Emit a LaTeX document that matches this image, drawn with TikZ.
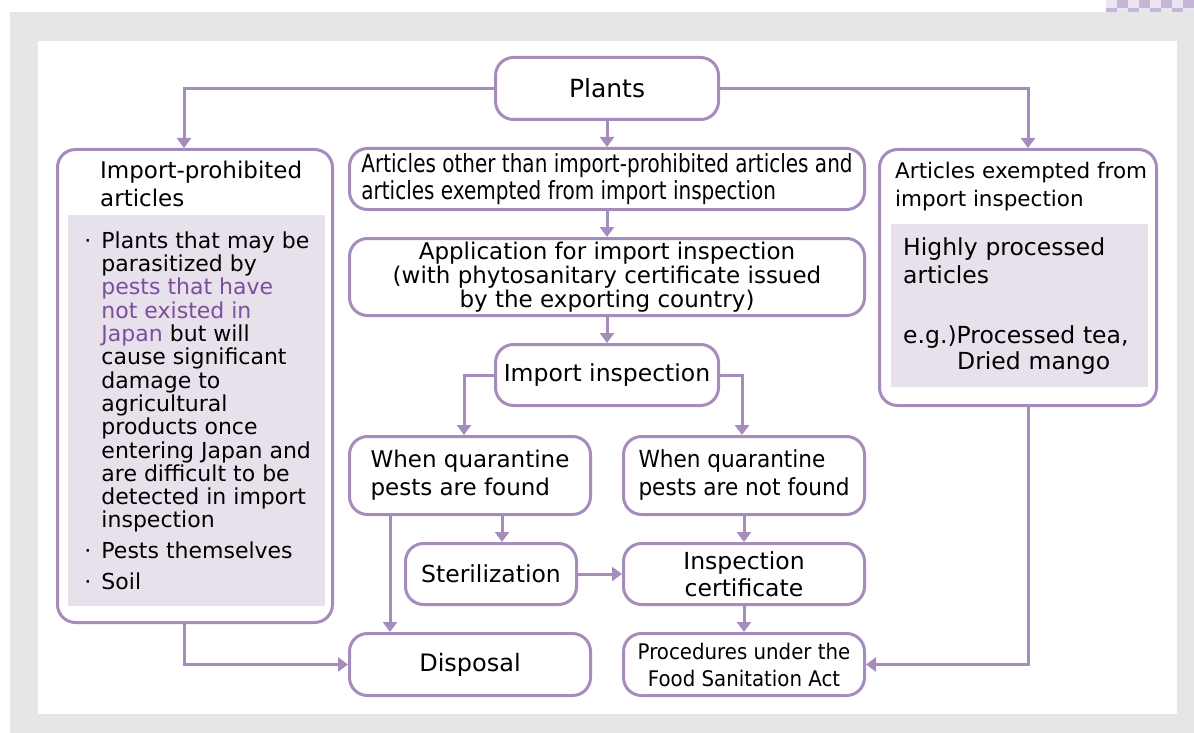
\documentclass[tikz,border=0pt]{standalone}
\usepackage{fontspec}
\setmainfont{DejaVu Sans}
\newfontfamily\narrowfont[FakeStretch=0.8]{DejaVu Sans}
\newfontfamily\semifont[FakeStretch=0.92]{DejaVu Sans}
\usetikzlibrary{arrows.meta,positioning}

\definecolor{flowline}{RGB}{166,139,189}
\definecolor{panelfill}{RGB}{231,225,236}
\definecolor{pestpurple}{RGB}{125,78,156}
\definecolor{framegray}{RGB}{229,230,232}
\definecolor{checkdark}{RGB}{197,182,216}
\definecolor{checklight}{RGB}{234,229,241}

\newcommand{\itm}{\makebox[19pt][l]{\hspace{2pt}·}}
\newcommand{\ind}{\hspace*{19pt}}

\begin{document}
\begin{tikzpicture}[x=1pt,y=-1pt,
        flow/.style={draw=flowline,line width=3pt,-{Triangle[width=14pt,length=10pt]}},
        box/.style={draw=flowline,line width=3pt,rounded corners=18pt,fill=white,
          inner sep=0pt,align=center,font=\fontsize{23.5}{28}\selectfont},
        panel/.style={fill=panelfill,inner sep=0pt,align=left},
        heading/.style={inner sep=0pt,align=left,anchor=west,font=\fontsize{22}{28}\selectfont}]

  \useasboundingbox (0,0) rectangle (1194,733);
  % frame
  \foreach \i in {0,...,7}{
    \pgfmathsetmacro{\xa}{1106+11*\i}
    \ifodd\i
      \fill[checkdark] (\xa,0) rectangle ++(11,8);
      \fill[checklight] (\xa,8) rectangle ++(11,4);
    \else
      \fill[checklight] (\xa,0) rectangle ++(11,8);
      \fill[checkdark] (\xa,8) rectangle ++(11,4);
    \fi
  }
  \fill[framegray] (10,12) rectangle (1194,733);
  \fill[white] (38,41) rectangle (1177,714);

  % middle column
  \node[box,minimum width=223pt,minimum height=62pt,font=\fontsize{25}{28}\selectfont] (plants) at (607,88.5) {Plants};
  \node[box,minimum width=515pt,minimum height=61pt,align=left,font=\narrowfont\fontsize{25}{27}\selectfont] (midtop) [below=26pt of plants]
    {Articles other than import-prohibited articles and\\articles exempted from import inspection};
  \node[box,minimum width=515pt,minimum height=77pt,font=\fontsize{23}{24}\selectfont] (apply) [below=26pt of midtop]
    {Application for import inspection\\(with phytosanitary certificate issued\\by the exporting country)};
  \node[box,minimum width=223pt,minimum height=61pt] (inspect) [below=26pt of apply] {Import inspection};

  \node[box,minimum width=241pt,minimum height=78pt,align=left,font=\fontsize{23}{28}\selectfont] (found) at (470,475.5)
    {When quarantine\\pests are found};
  \node[box,minimum width=241pt,minimum height=78pt,align=left,font=\semifont\fontsize{23.5}{28}\selectfont] (notfound) [right=30pt of found]
    {When quarantine\\pests are not found};
  \node[box,minimum width=171pt,minimum height=61pt] (steril) at (491,574) {Sterilization};
  \node[box,minimum width=241pt,minimum height=61pt,font=\fontsize{23.5}{27}\selectfont] (certif) [below=26pt of notfound]
    {Inspection\\certificate};
  \node[box,minimum width=241pt,minimum height=62pt,font=\semifont\fontsize{21.5}{27}\selectfont] (procedures) [below=26pt of certif]
    {Procedures under the\\Food Sanitation Act};
  \node[box,minimum width=241pt,minimum height=62pt,font=\fontsize{24}{28}\selectfont] (disposal) [left=30pt of procedures] {Disposal};

  % left box
  \node[box,minimum width=275pt,minimum height=473pt] (prohibited) at (195,386) {};
  \node[heading,font=\fontsize{23}{28}\selectfont] (prohibitedtitle) at (100,184) {Import-prohibited\\articles};
  \node[panel,minimum width=257pt,minimum height=391pt,anchor=north west,font=\fontsize{22}{23.3}\selectfont] (prohibitedlist) at (68,215)
    {\itm Plants that may be\\
     \ind parasitized by\\
     \ind\textcolor{pestpurple}{pests that have}\\
     \ind\textcolor{pestpurple}{not existed in}\\
     \ind\textcolor{pestpurple}{Japan} but will\\
     \ind cause significant\\
     \ind damage to\\
     \ind agricultural\\
     \ind products once\\
     \ind entering Japan and\\
     \ind are difficult to be\\
     \ind detected in import\\
     \ind inspection\\[7.5pt]
     \itm Pests themselves\\[7.5pt]
     \itm Soil};

  % right box
  \node[box,minimum width=277pt,minimum height=256pt] (exempted) at (1018,277.5) {};
  \node[heading,font=\fontsize{21.5}{28}\selectfont] (exemptedtitle) at (895,187) {Articles exempted from\\import inspection};
  \node[panel,minimum width=257pt,minimum height=163pt,anchor=north west,inner xsep=12pt,text width=233pt,
        font=\fontsize{23.5}{28}\selectfont] (exemptedlist) at (891,224)
    {Highly processed\\articles\\[32pt]e.g.)Processed tea,\\[-2pt]\hspace*{54pt}Dried mango};

  % connectors
  \draw[flow] (plants.west) -| ([xshift=-11pt]prohibited.north);
  \draw[flow] (plants.east) -| ([xshift=10pt]exempted.north);
  \draw[flow] (plants.south) -- (midtop.north);
  \draw[flow] (midtop.south) -- (apply.north);
  \draw[flow] (apply.south) -- (inspect.north);
  \draw[flow] (inspect.west) -| ([xshift=-6pt]found.north);
  \draw[flow] (inspect.east) -| ([xshift=-2pt]notfound.north);
  \draw[flow] ([xshift=32pt]found.south) -- ([xshift=11pt]steril.north);
  \draw[flow] ([xshift=-80pt]found.south) -- ([xshift=-80pt]disposal.north);
  \draw[flow] (notfound.south) -- (certif.north);
  \draw[flow] (steril.east) -- (certif.west);
  \draw[flow] (certif.south) -- (procedures.north);
  \draw[flow] ([xshift=-11pt]prohibited.south) |- (disposal.west);
  \draw[flow] ([xshift=10pt]exempted.south) |- (procedures.east);
\end{tikzpicture}
\end{document}
